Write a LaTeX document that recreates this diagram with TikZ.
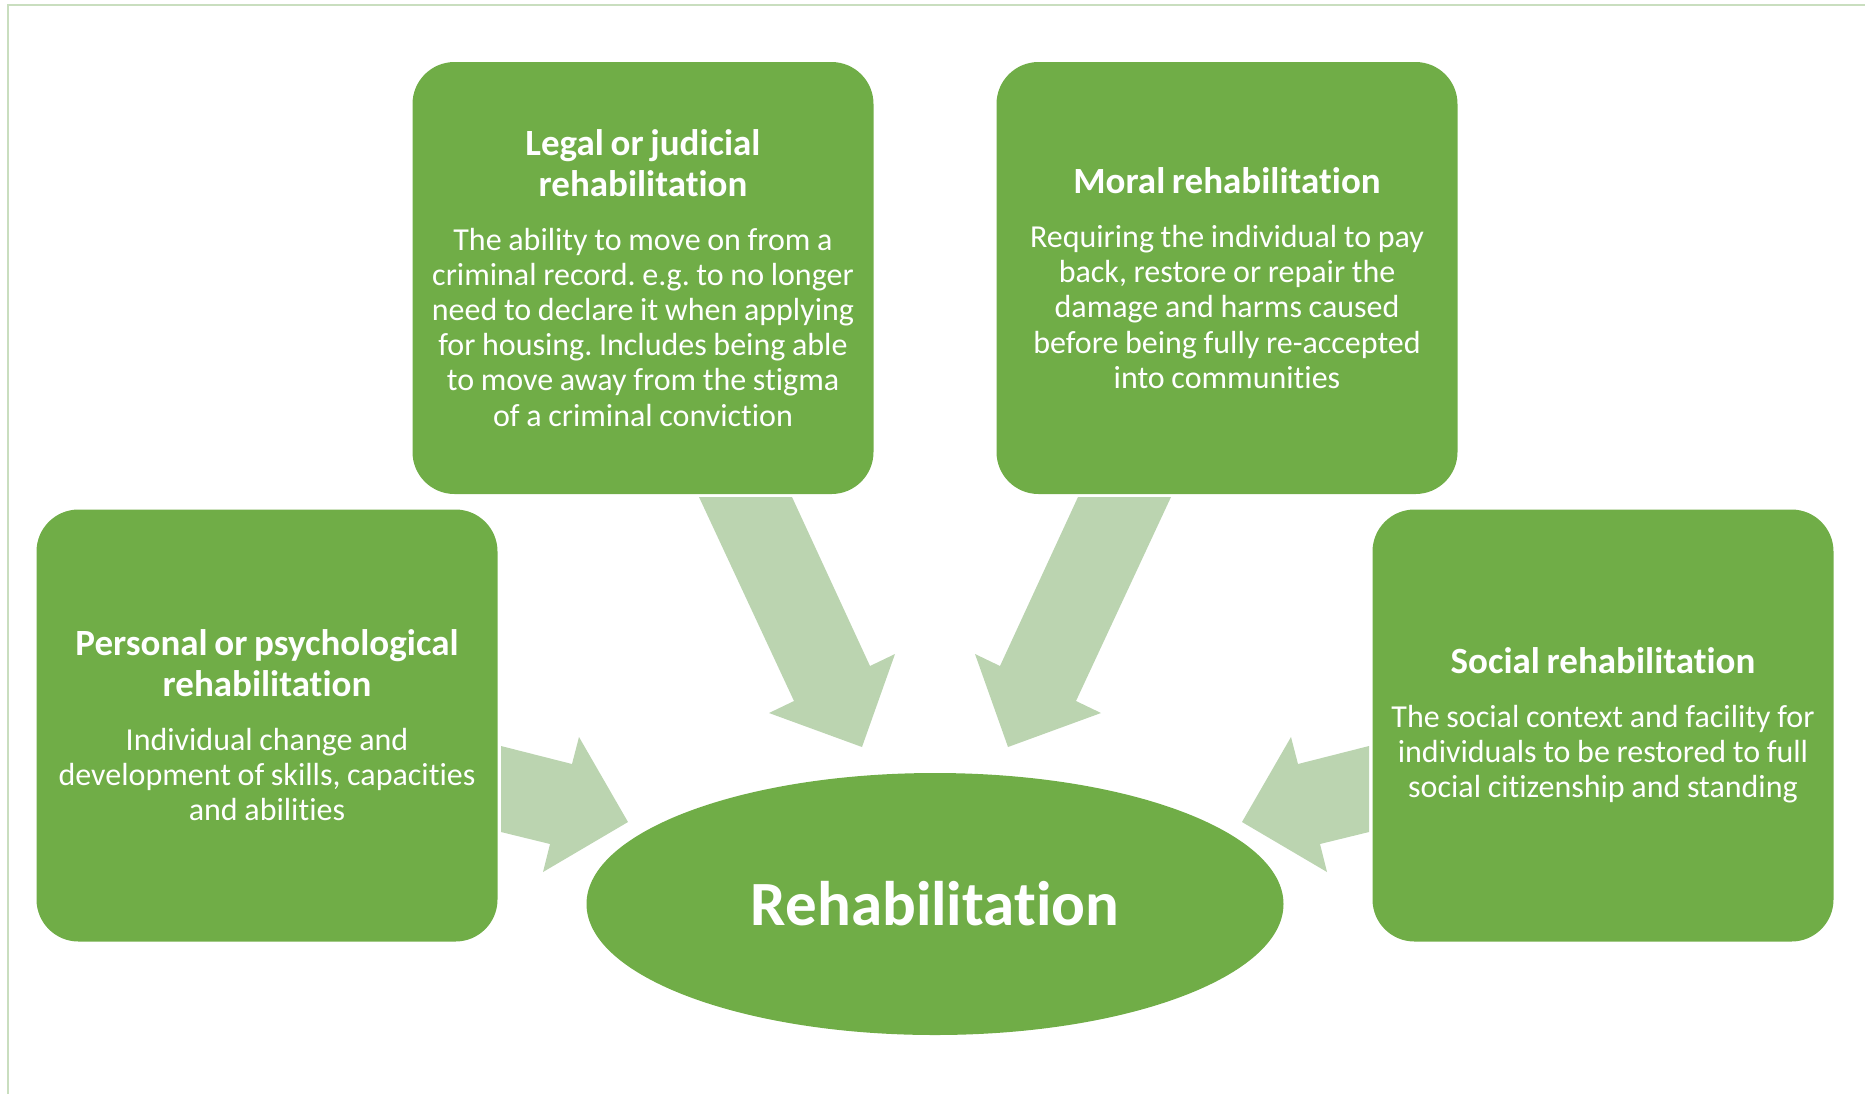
\documentclass[tikz,border=0pt]{standalone}
\usepackage{fontspec}
\setmainfont{Carlito}[Ligatures={NoCommon}]
\frenchspacing
\usetikzlibrary{shapes.geometric}
\definecolor{boxgreen}{HTML}{70AD47}
\definecolor{arrowgreen}{HTML}{BBD4B0}
\definecolor{framegreen}{HTML}{C9DEBF}
\newcommand{\titletext}[1]{{\fontsize{18.5pt}{20.2pt}\selectfont\bfseries #1\par}\vspace{9.4pt}}
\newcommand{\bodytext}[1]{{\fontsize{16pt}{17.6pt}\selectfont #1\par}}
\tikzset{
  catbox/.style={rectangle, rounded corners=21pt, fill=boxgreen, text=white,
    minimum width=230.5pt, minimum height=216pt, inner sep=0pt,
    text width=225pt, align=center},
  blockarrow/.style={fill=arrowgreen, draw=none},
  framerule/.style={draw=framegreen, line width=1pt}
}
\begin{document}
\begin{tikzpicture}[x=0.5pt, y=-0.5pt]
\useasboundingbox (0,0) rectangle (1865,1094);
% frame
\coordinate (ftr) at (1865,5);
\coordinate (ftl) at (8,5);
\coordinate (fbl) at (8,1094);
\draw[framerule] (ftr) -- (ftl) -- (fbl);

% boxes
\node[catbox] (legal) at (643,278) {\setlength{\parskip}{0pt}\titletext{Legal or judicial\\rehabilitation}\bodytext{The ability to move on from a\\criminal record. e.g. to no longer\\need to declare it when applying\\for housing. Includes being able\\to move away from the stigma\\of a criminal conviction}};
\node[catbox] (moral) at (1227,278) {\setlength{\parskip}{0pt}\titletext{Moral rehabilitation}\bodytext{Requiring the individual to pay\\back, restore or repair the\\damage and harms caused\\before being fully re-accepted\\into communities}};
\node[catbox] (personal) at (267,725.5) {\setlength{\parskip}{0pt}\titletext{Personal or psychological\\rehabilitation}\bodytext{Individual change and\\development of skills, capacities\\and abilities}};
\node[catbox] (social) at (1603,725.5) {\setlength{\parskip}{0pt}\titletext{Social rehabilitation}\bodytext{The social context and facility for\\individuals to be restored to full\\social citizenship and standing}};

% centre ellipse
\node[ellipse, fill=boxgreen, text=white, minimum width=348.5pt, minimum height=131pt, inner sep=0pt,
  font=\fontsize{31.5pt}{36pt}\selectfont\bfseries] (rehab) at (935,904) {Rehabilitation};

% block arrows
\fill[blockarrow] (501,746) -- (572,764) -- (579,737) -- (628,822) -- (543,872) -- (550,844) -- (501,832) -- cycle;
\fill[blockarrow] (1369,746) -- (1298,764) -- (1291,737) -- (1242,822) -- (1327,872) -- (1320,844) -- (1369,832) -- cycle;
\fill[blockarrow] (699,497) -- (792,497) -- (870,666) -- (895,654) -- (862,747) -- (769,713) -- (794,701) -- cycle;
\fill[blockarrow] (1171,497) -- (1078,497) -- (1000,666) -- (975,654) -- (1008,747) -- (1101,713) -- (1076,701) -- cycle;
\end{tikzpicture}
\end{document}
